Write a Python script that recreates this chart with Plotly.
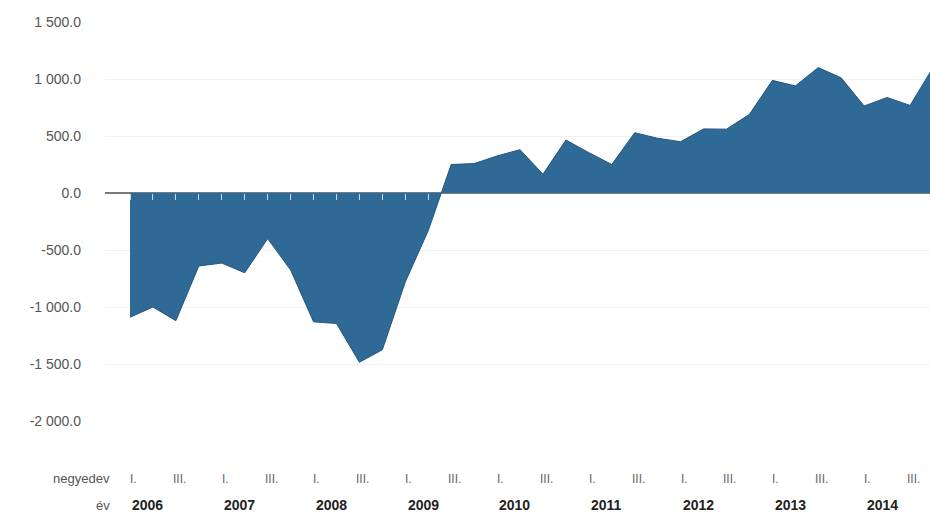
import plotly.graph_objects as go

years = ["2006", "2007", "2008", "2009", "2010", "2011", "2012", "2013", "2014"]
quarters = ["I.", "II.", "III.", "IV."]
values = [
    -1090, -1000, -1120, -640,   # 2006
    -615, -700, -400, -675,      # 2007
    -1130, -1145, -1485, -1375,  # 2008
    -780, -330, 250, 258,        # 2009
    325, 380, 165, 465,          # 2010
    354, 250, 529, 480,          # 2011
    450, 562, 560, 690,          # 2012
    988, 939, 1100, 1010,        # 2013
    763, 838, 768, 1100,         # 2014
]
y_ticks = [-2000, -1500, -1000, -500, 0, 500, 1000, 1500]
y_tick_text = ["-2 000.0", "-1 500.0", "-1 000.0", "-500.0", "0.0", "500.0", "1 000.0", "1 500.0"]
row_label_quarter = "negyedev"
row_label_year = "év"

idx = list(range(len(values)))

W, H = 930, 521
ML, MR, MT, MB = 105, 0, 22, 100
plot_w = W - ML - MR
plot_h = H - MT - MB
y_min, y_max = -2000, 1500
x_left, x_right = -1.09, 34.87

fig = go.Figure()
fig.add_trace(go.Scatter(
    x=idx, y=values, mode="lines", fill="tozeroy",
    fillcolor="#2f6996", line=dict(color="#24557f", width=1),
    hoverinfo="skip", showlegend=False,
))

def py(pix):
    return (MT + plot_h - pix) / plot_h

def px(pix):
    return (pix - ML) / plot_w

FONT = "Liberation Sans Narrow, Liberation Sans, Arial"
ann = []
for i in idx:
    q = i % 4
    if q in (0, 2):
        ann.append(dict(x=i + 0.15, y=py(479), xref="x", yref="paper",
                        text=quarters[q], showarrow=False,
                        font=dict(family=FONT, size=12, color="#666"),
                        xanchor="center", yanchor="middle"))
for k, yr in enumerate(years):
    ann.append(dict(x=4 * k + 0.78, y=py(505), xref="x", yref="paper",
                    text="<b>" + yr + "</b>", showarrow=False,
                    font=dict(family=FONT, size=14, color="#222"),
                    xanchor="center", yanchor="middle"))
ann.append(dict(x=px(112), y=py(479), xref="paper", yref="paper", text=row_label_quarter,
                showarrow=False, xanchor="right", yanchor="middle",
                font=dict(family=FONT, size=13, color="#555")))
ann.append(dict(x=px(112), y=py(505), xref="paper", yref="paper", text=row_label_year,
                showarrow=False, xanchor="right", yanchor="middle",
                font=dict(family=FONT, size=13, color="#555")))

fig.update_layout(
    width=W, height=H,
    margin=dict(l=ML, r=MR, t=MT, b=MB, pad=0),
    paper_bgcolor="white", plot_bgcolor="white",
    annotations=ann,
    xaxis=dict(
        range=[x_left, x_right], showgrid=False, zeroline=False, showline=False,
        anchor="free", position=(0 - y_min) / (y_max - y_min),
        tickvals=idx, ticks="outside", ticklen=6, tickwidth=1,
        tickcolor="rgba(255,255,255,0.75)", showticklabels=False,
        fixedrange=True,
    ),
    yaxis=dict(
        range=[y_min, y_max], tickvals=y_ticks, ticktext=y_tick_text,
        showgrid=True, gridcolor="#f1f1f1", gridwidth=1,
        zeroline=True, zerolinecolor="#7a7a7a", zerolinewidth=1.5,
        showline=False, ticks="", ticklabelstandoff=23,
        tickfont=dict(family=FONT, size=14, color="#555"),
        fixedrange=True,
    ),
)

fig.write_html(
    "out.html",
    config={"displayModeBar": False, "staticPlot": True},
    post_script="document.body.style.margin='0';"
                "document.documentElement.style.overflow='hidden';"
                "document.body.style.overflow='hidden';",
)
